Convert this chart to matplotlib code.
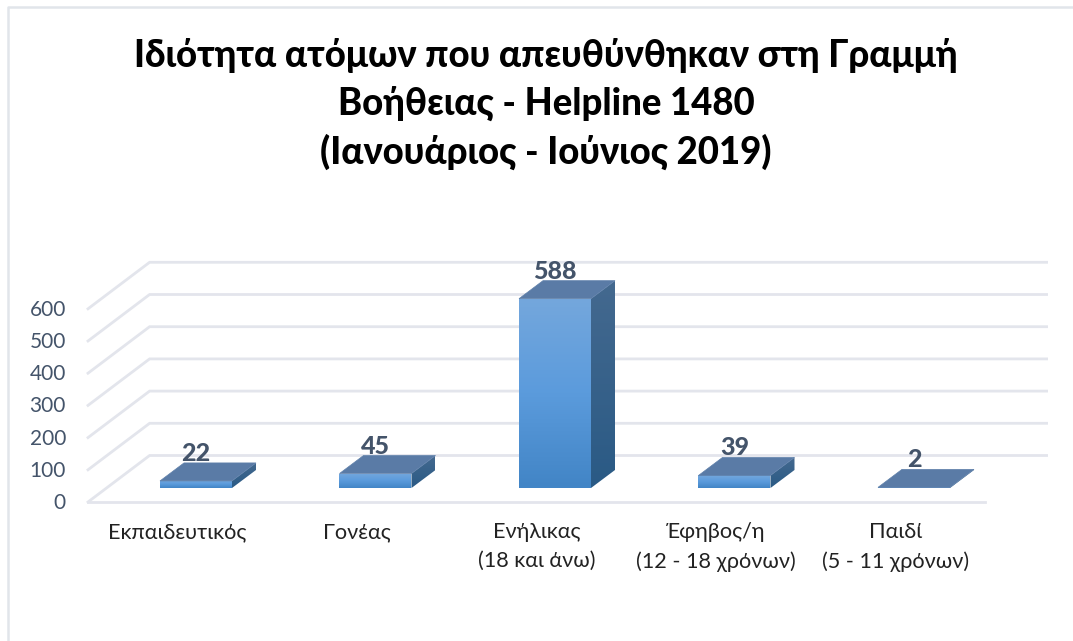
import numpy as np
import matplotlib
matplotlib.use("Agg")
import matplotlib.pyplot as plt
from matplotlib.patches import Polygon, Rectangle
from matplotlib.colors import LinearSegmentedColormap

# Chart values
categories = ["Εκπαιδευτικός", "Γονέας", "Ενήλικας\n(18 και άνω)",
              "Έφηβος/η\n(12 - 18 χρόνων)", "Παιδί\n(5 - 11 χρόνων)"]
values = [22, 45, 588, 39, 2]
y_ticks = [0, 100, 200, 300, 400, 500, 600]
title = "Ιδιότητα ατόμων που απευθύνθηκαν στη Γραμμή\nΒοήθειας - Helpline 1480\n(Ιανουάριος - Ιούνιος 2019)"

W, H = 1073, 641
plt.rcParams['font.family'] = ['Lato', 'Open Sans', 'DejaVu Sans']

fig = plt.figure(figsize=(W / 100, H / 100), dpi=100)
ax = fig.add_axes([0, 0, 1, 1])
ax.axis("off")

# axis scale: one category = 179.5 px, 100 units = 32.2 px, first bar centre at x=196, bar base at y=488
px_x = 179.5
px_y = 0.322
ax.set_xlim(-196 / px_x, (W - 196) / px_x)
ax.set_ylim((488 - H) / px_y, 488 / px_y)

bar_w = 72 / px_x
# depth of a bar, in data units
dx = 24 / px_x
dy = 18 / px_y
# front and back of the floor, relative to the bar front plane
fx0, fy0 = -18.6 / px_x, -14 / px_y
bx0, by0 = 43 / px_x, 32.5 / px_y
floor_l = -89.4 / px_x
floor_r = 807.6 / px_x

grid_col = "#e3e5ec"
for t in y_ticks:
    xs = [floor_l + fx0, floor_l + bx0, floor_r + bx0]
    ys = [t + fy0, t + by0, t + by0]
    ax.plot(xs, ys, color=grid_col, lw=2, solid_joinstyle="miter", zorder=1)
ax.plot([floor_l + fx0, floor_r + fx0], [fy0, fy0], color=grid_col, lw=2, zorder=1)

front_cmap = LinearSegmentedColormap.from_list("front", ["#4285c6", "#5b9bdc", "#74a7dd"])
side_cmap = LinearSegmentedColormap.from_list("side", ["#2a5a85", "#44698f"])
top_col = "#5a7ba6"

for i, v in enumerate(values):
    l, r = i - bar_w / 2, i + bar_w / 2
    grad = np.linspace(1, 0, 100).reshape(-1, 1)
    # front face
    im = ax.imshow(grad, cmap=front_cmap, extent=[l, r, 0, v], aspect="auto", zorder=3)
    im.set_clip_path(Rectangle((l, 0), r - l, v, transform=ax.transData))
    # side face
    side = Polygon([(r, 0), (r + dx, dy), (r + dx, v + dy), (r, v)], transform=ax.transData,
                   fc="none", ec="none")
    ax.add_patch(side)
    im2 = ax.imshow(grad, cmap=side_cmap, extent=[r, r + dx, 0, v + dy], aspect="auto", zorder=3)
    im2.set_clip_path(side)
    # top face
    ax.add_patch(Polygon([(l, v), (r, v), (r + dx, v + dy), (l + dx, v + dy)], fc=top_col,
                         ec="#5f80aa", lw=0.5, zorder=4))
    ax.text(i, v + dy + 2 / px_y, str(v), ha="center", va="baseline", fontsize=18,
            fontweight="black", color="#44546a", zorder=5)
    ax.text(i + fx0, -34 / px_y, categories[i], ha="center", va="top", fontsize=15.6,
            color="#222222", linespacing=1.54, zorder=5)

ax.set_xlim(-196 / px_x, (W - 196) / px_x)
ax.set_ylim((488 - H) / px_y, 488 / px_y)

for t in y_ticks:
    ax.text(-130 / px_x, t + fy0 - 1 / px_y, str(t), ha="right", va="center", fontsize=15, color="#44546a")

ax.text(350 / px_x, (488 - 104) / px_y, title, ha="center", va="center", fontsize=26.3,
        fontweight="black", color="black", linespacing=1.42)

# chart area border, only top and left are visible
ax.plot([-188 / px_x, -188 / px_x, (W - 196) / px_x],
        [(488 - H) / px_y, (488 - 7) / px_y, (488 - 7) / px_y], color="#e1e5ea", lw=1.8, zorder=0)

fig.savefig("out.png", dpi=100)
